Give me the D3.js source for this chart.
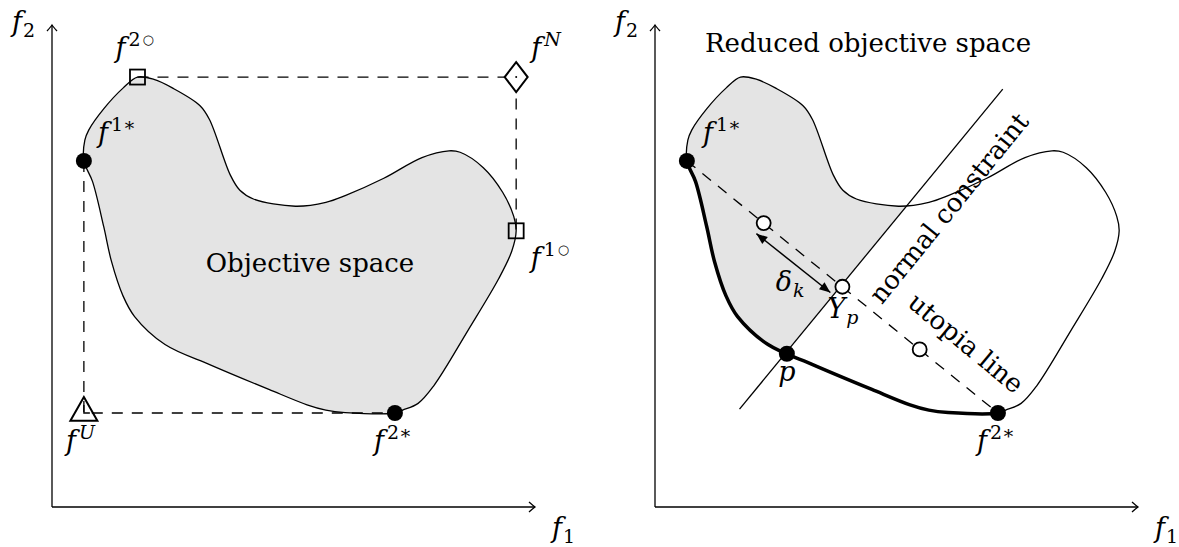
<!DOCTYPE html>
<html>
<head>
<meta charset="utf-8">
<script src="https://cdn.jsdelivr.net/npm/d3@7"></script>
<style>
  body { margin: 0; background: #fff; }
  text { font-family: "DejaVu Serif", serif; fill: #000; }
</style>
</head>
<body>
<svg id="chart" width="1179" height="547"></svg>
<script>
// objective space outline (f1, f2), clockwise from f2°
var outline = [
  [17.7,89.2],[21.1,88.7],[25.0,86.9],[30.6,83.3],[32.6,80.4],[36.9,68.9],[38.9,65.7],
  [41.7,63.9],[50.4,62.4],[56.7,63.2],[60.7,64.6],[68.7,68.2],[76.6,72.5],[82.2,73.9],
  [84.5,73.6],[89.3,70.4],[93.3,65.3],[95.6,60.3],[96.1,57.3],[95.2,53.1],[92.5,47.4],
  [86.1,36.6],[79.0,25.1],[75.8,21.5],[72.6,20.1],[71.0,19.5],[60.7,19.6],[56.7,20.1],
  [52.8,21.2],[44.9,24.4],[33.0,29.4],[23.4,33.7],[17.1,39.5],[14.7,43.8],[12.3,51.0],
  [10.7,58.2],[8.4,67.5],[6.6,71.8],[6.8,76.1],[7.6,78.2],[10.7,82.6],[14.7,86.9]
];
var f1star = [6.6,71.8];
var f2star = [71.0,19.5];
var fU = [6.6,19.5];
var fN = [96.1,89.2];
var f1circ = [96.1,57.3];
var f2circ = [17.7,89.2];
var pPoint = [27.3,31.8];
var utopiaPts = [[22.5,58.9],[38.8,45.7],[54.8,32.7]];
var normalLine = [[17.5,20.3],[72.0,86.7]];
var deltaArrow = [[21.0,56.7],[36.3,44.5]];
var axisMax = 100;

var svg = d3.select('#chart');
var x = d3.scaleLinear().domain([0, axisMax]).range([52, 535]);
var y = d3.scaleLinear().domain([0, axisMax]).range([507, 25]);
var px = function(d){ return [x(d[0]), y(d[1])]; };

var shapeLine = d3.line().x(function(d){ return x(d[0]); }).y(function(d){ return y(d[1]); })
    .curve(d3.curveCatmullRomClosed.alpha(0.5));
var straight = d3.line().x(function(d){ return x(d[0]); }).y(function(d){ return y(d[1]); });

var defs = svg.append('defs');
defs.append('marker')
    .attr('id', 'to').attr('markerUnits', 'userSpaceOnUse')
    .attr('viewBox', '-8 -7 10 14').attr('markerWidth', 10).attr('markerHeight', 14)
    .attr('refX', 0).attr('refY', 0).attr('orient', 'auto')
  .append('path')
    .attr('d', 'M-6,-5 Q-1.5,-1 0,0 Q-1.5,1 -6,5')
    .attr('fill', 'none').attr('stroke', '#000').attr('stroke-width', 1.3);
defs.append('marker')
    .attr('id', 'latex').attr('markerUnits', 'userSpaceOnUse')
    .attr('viewBox', '-12 -6 13 12').attr('markerWidth', 13).attr('markerHeight', 12)
    .attr('refX', 0).attr('refY', 0).attr('orient', 'auto-start-reverse')
  .append('path')
    .attr('d', 'M0,0 L-11,-4.5 L-11,4.5 Z').attr('fill', '#000');

// half plane left of the normal constraint
defs.append('clipPath').attr('id', 'leftOfNormal')
  .append('path')
    .attr('d', straight([[-15.6,-20],[99.3,120],[-20,120],[-20,-20]]) + 'Z');

function label(g, pos, base, sup, sub, supItalic){
  var t = g.append('text').attr('x', pos[0]).attr('y', pos[1]).style('font-size', '27px');
  t.append('tspan').style('font-style', 'italic').text(base);
  if (sup) {
    var s = t.append('tspan').attr('dx', 3).attr('dy', -11).style('font-size', '19px')
      .style('font-style', supItalic ? 'italic' : 'normal');
    if (sup.length > 1 && sup[1] === 'o') {
      s.text(sup[0]);
      t.append('tspan').attr('dx', 2).attr('dy', -2).style('font-size', '13px')
        .style('font-family', '"DejaVu Sans"').text('\u25CB');
    } else {
      s.text(sup);
    }
  }
  if (sub) t.append('tspan').attr('dx', 1).attr('dy', 6).style('font-size', '19px')
      .style('font-style', supItalic ? 'italic' : 'normal').text(sub);
  return t;
}
function near(d, dx, dy){ var p = px(d); return [p[0] + dx, p[1] + dy]; }

function axes(g){
  g.append('path').attr('d', straight([[0,0],[0,axisMax]]))
    .attr('stroke', '#000').attr('stroke-width', 1.3).attr('marker-end', 'url(#to)');
  g.append('path').attr('d', straight([[0,0],[axisMax,0]]))
    .attr('stroke', '#000').attr('stroke-width', 1.3).attr('marker-end', 'url(#to)');
  label(g, [12, 31], 'f', null, '2');
  label(g, [552, 537], 'f', null, '1');
}

function dot(g, d){
  g.append('circle').attr('cx', x(d[0])).attr('cy', y(d[1])).attr('r', 8).attr('fill', '#000');
}

// ---------- left panel ----------
var gL = svg.append('g');
axes(gL);
gL.append('path').attr('d', shapeLine(outline))
  .attr('fill', '#e4e4e4').attr('stroke', '#000').attr('stroke-width', 1.3);
gL.selectAll('.dash').data([[f1star, fU, f2star], [f2circ, fN, f1circ]]).enter()
  .append('path').attr('d', straight).attr('fill', 'none')
  .attr('stroke', '#000').attr('stroke-width', 1.3).attr('stroke-dasharray', '11,9');
gL.selectAll('.sq').data([f2circ, f1circ]).enter().append('rect')
  .attr('x', function(d){ return x(d[0]) - 7.5; }).attr('y', function(d){ return y(d[1]) - 7.5; })
  .attr('width', 15).attr('height', 15)
  .attr('fill', 'none').attr('stroke', '#000').attr('stroke-width', 1.8);
gL.append('path')
  .attr('transform', 'translate(' + px(fN) + ')')
  .attr('d', 'M0,-15 L11.5,0 L0,15 L-11.5,0 Z')
  .attr('fill', '#fff').attr('stroke', '#000').attr('stroke-width', 2);
gL.append('circle').attr('cx', x(fN[0])).attr('cy', y(fN[1])).attr('r', 1).attr('fill', '#000');
gL.append('path')
  .attr('transform', 'translate(' + px(fU) + ')')
  .attr('d', 'M0,-16 L13.5,7.7 L-13.5,7.7 Z')
  .attr('fill', 'none').attr('stroke', '#000').attr('stroke-width', 2);
gL.append('path')
  .attr('transform', 'translate(' + px(fU) + ')')
  .attr('d', 'M0,-8 L0,0 L6,0').attr('fill', 'none').attr('stroke', '#000').attr('stroke-width', 1.3);
dot(gL, f1star);
dot(gL, f2star);

label(gL, near(f2circ, -22, -20), 'f', '2o');
label(gL, near(fN, 15, -20), 'f', 'N', null, true);
label(gL, near(f1star, 14, -19), 'f', '1\u2217');
label(gL, near(f1circ, 14.5, 36), 'f', '1o');
label(gL, near(fU, -18, 37), 'f', 'U', null, true);
label(gL, near(f2star, -21, 37), 'f', '2\u2217');
gL.append('text').attr('x', 310).attr('y', 272).attr('text-anchor', 'middle')
  .style('font-size', '26px').text('Objective space');

// ---------- right panel ----------
var gR = svg.append('g').attr('transform', 'translate(603,0)');
axes(gR);
gR.append('path').attr('d', shapeLine(outline)).attr('clip-path', 'url(#leftOfNormal)')
  .attr('fill', '#e4e4e4').attr('stroke', 'none');
var outPath = gR.append('path').attr('d', shapeLine(outline))
  .attr('fill', 'none').attr('stroke', '#000').attr('stroke-width', 1.3);

// thick pareto front from f2* back round to f1*
var node = outPath.node(), total = node.getTotalLength();
function lengthAt(d){
  var p = px(d), best = 0, bd = Infinity;
  for (var l = 0; l <= total; l += 0.5) {
    var q = node.getPointAtLength(l), dd = (q.x - p[0]) * (q.x - p[0]) + (q.y - p[1]) * (q.y - p[1]);
    if (dd < bd) { bd = dd; best = l; }
  }
  return best;
}
var L1 = lengthAt(f2star), L2 = lengthAt(f1star);
gR.append('path').attr('d', shapeLine(outline)).attr('fill', 'none')
  .attr('stroke', '#000').attr('stroke-width', 3.5)
  .attr('stroke-dasharray', '0,' + L1 + ',' + (L2 - L1) + ',' + total);

gR.append('path').attr('d', straight(normalLine))
  .attr('stroke', '#000').attr('stroke-width', 1.3);
gR.append('path').attr('d', straight([f1star, f2star])).attr('fill', 'none')
  .attr('stroke', '#000').attr('stroke-width', 1.3).attr('stroke-dasharray', '11,9');
gR.append('path').attr('d', straight(deltaArrow))
  .attr('stroke', '#000').attr('stroke-width', 1.5)
  .attr('marker-start', 'url(#latex)').attr('marker-end', 'url(#latex)');
gR.selectAll('.oc').data(utopiaPts).enter().append('circle')
  .attr('cx', function(d){ return x(d[0]); }).attr('cy', function(d){ return y(d[1]); })
  .attr('r', 7).attr('fill', '#fff').attr('stroke', '#000').attr('stroke-width', 1.8);
dot(gR, f1star);
dot(gR, f2star);
dot(gR, pPoint);

label(gR, near(f1star, 16, -19), 'f', '1\u2217');
label(gR, near(f2star, -21, 37), 'f', '2\u2217');
label(gR, near(pPoint, -8.5, 27), 'p');
label(gR, near(utopiaPts[0], 12, 68), '\u03b4', null, 'k', true);
label(gR, near(utopiaPts[1], -15, 31), 'Y', null, 'p', true);
gR.append('text').attr('x', 265).attr('y', 52).attr('text-anchor', 'middle')
  .style('font-size', '26px').text('Reduced objective space');
gR.append('text').attr('transform', 'translate(346,208) rotate(-51)')
  .attr('text-anchor', 'middle').attr('dominant-baseline', 'central')
  .style('font-size', '26px').text('normal constraint');
gR.append('text').attr('transform', 'translate(363,343) rotate(39.5)')
  .attr('text-anchor', 'middle').attr('dominant-baseline', 'central')
  .style('font-size', '26px').text('utopia line');
</script>
</body>
</html>
